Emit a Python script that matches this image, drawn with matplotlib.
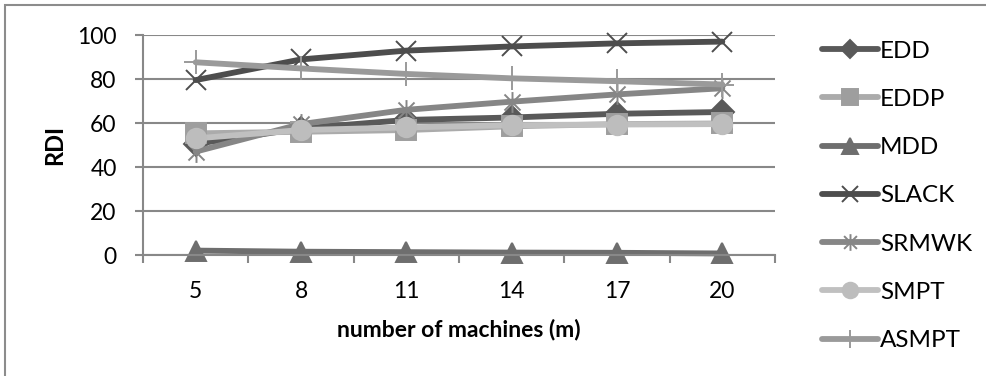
import numpy as np
import matplotlib
matplotlib.use('Agg')
import matplotlib.pyplot as plt
from matplotlib.path import Path
from matplotlib.patches import Rectangle

plt.rcParams['font.family'] = ['Lato', 'DejaVu Sans']

machines = ['5', '8', '11', '14', '17', '20']

edd = [50.5, 57.5, 61.4, 62.5, 64.2, 65.0]
eddp = [55.3, 56.0, 56.8, 58.5, 59.5, 59.8]
mdd = [2.0, 1.5, 1.3, 1.1, 1.0, 0.7]
slack = [79.5, 88.9, 92.9, 94.8, 96.2, 97.0]
srmwk = [47.0, 59.5, 66.0, 69.7, 73.0, 75.8]
smpt = [53.0, 56.8, 58.0, 59.0, 59.3, 59.5]
asmpt = [87.6, 84.8, 82.3, 80.3, 79.0, 77.5]

# asterisk marker: x plus vertical bar
star_verts = [(-1, -1), (1, 1), (-1, 1), (1, -1), (0, -1.3), (0, 1.3)]
star_codes = [Path.MOVETO, Path.LINETO] * 3
star = Path(star_verts, star_codes)

series = [
	('EDD', edd, '#595959', '#595959', 'D', 12),
	('EDDP', eddp, '#ABABAB', '#9E9E9E', 's', 14),
	('MDD', mdd, '#6E6E6E', '#6E6E6E', '^', 15),
	('SLACK', slack, '#4D4D4D', '#4D4D4D', 'x', 14),
	('SRMWK', srmwk, '#868686', '#868686', star, 15),
	('SMPT', smpt, '#C0C0C0', '#BDBDBD', 'o', 14),
	('ASMPT', asmpt, '#9A9A9A', '#9A9A9A', '+', 17),
]

fig = plt.figure(figsize=(9.87, 3.76), dpi=100)
ax = fig.add_axes([143 / 987, 1 - 255 / 376, 632 / 987, 220 / 376])

x = np.arange(len(machines))
for name, vals, lc, mc, mk, ms in series:
	ax.plot(x, vals, color=lc, linewidth=4.2, marker=mk, markersize=ms,
		markerfacecolor=mc, markeredgecolor=mc, markeredgewidth=1.4,
		solid_capstyle='round', label=name, clip_on=False)

grid_col = '#888888'
ax.set_xlim(-0.5, len(machines) - 0.5)
ax.set_ylim(0, 100)
ax.set_yticks([0, 20, 40, 60, 80, 100])
ax.yaxis.grid(True, color=grid_col, linewidth=1.5)
ax.set_axisbelow(True)
for s in ['top', 'right']:
	ax.spines[s].set_visible(False)
for s in ['left', 'bottom']:
	ax.spines[s].set_color(grid_col)
	ax.spines[s].set_linewidth(1.5)

ax.set_xticks(x)
ax.set_xticklabels(machines)
ax.set_xticks(np.arange(-0.5, len(machines)), minor=True)
ax.tick_params(axis='x', which='major', length=0, pad=19, labelsize=16.5)
ax.tick_params(axis='x', which='minor', length=6, width=1.5, color=grid_col)
ax.tick_params(axis='y', length=6, width=1.5, color=grid_col, pad=13, labelsize=16.5)

ax.set_xlabel('number of machines (m)', fontsize=16.5, fontweight='bold')
ax.xaxis.label.set_va('center')
ax.xaxis.set_label_coords(0.5, (255 - 330) / 220)
ax.set_ylabel('RDI', fontsize=17, fontweight='bold')
ax.yaxis.label.set_va('center')
ax.yaxis.set_label_coords((55 - 143) / 632, 0.5)

leg = fig.legend(loc='upper left', bbox_to_anchor=(812 / 987, 1 - 31 / 376),
	frameon=False, fontsize=17.5, handlelength=2.3, handletextpad=0.1,
	labelspacing=1.12, borderaxespad=0, markerscale=0.8)

# outer chart border
fig.patches.append(Rectangle((5 / 987, -0.1), 1.1, 1 - 5 / 376 + 0.1,
	transform=fig.transFigure, fill=False, edgecolor='#8C8C8C', linewidth=1.5))

fig.savefig('out.png', dpi=100)
